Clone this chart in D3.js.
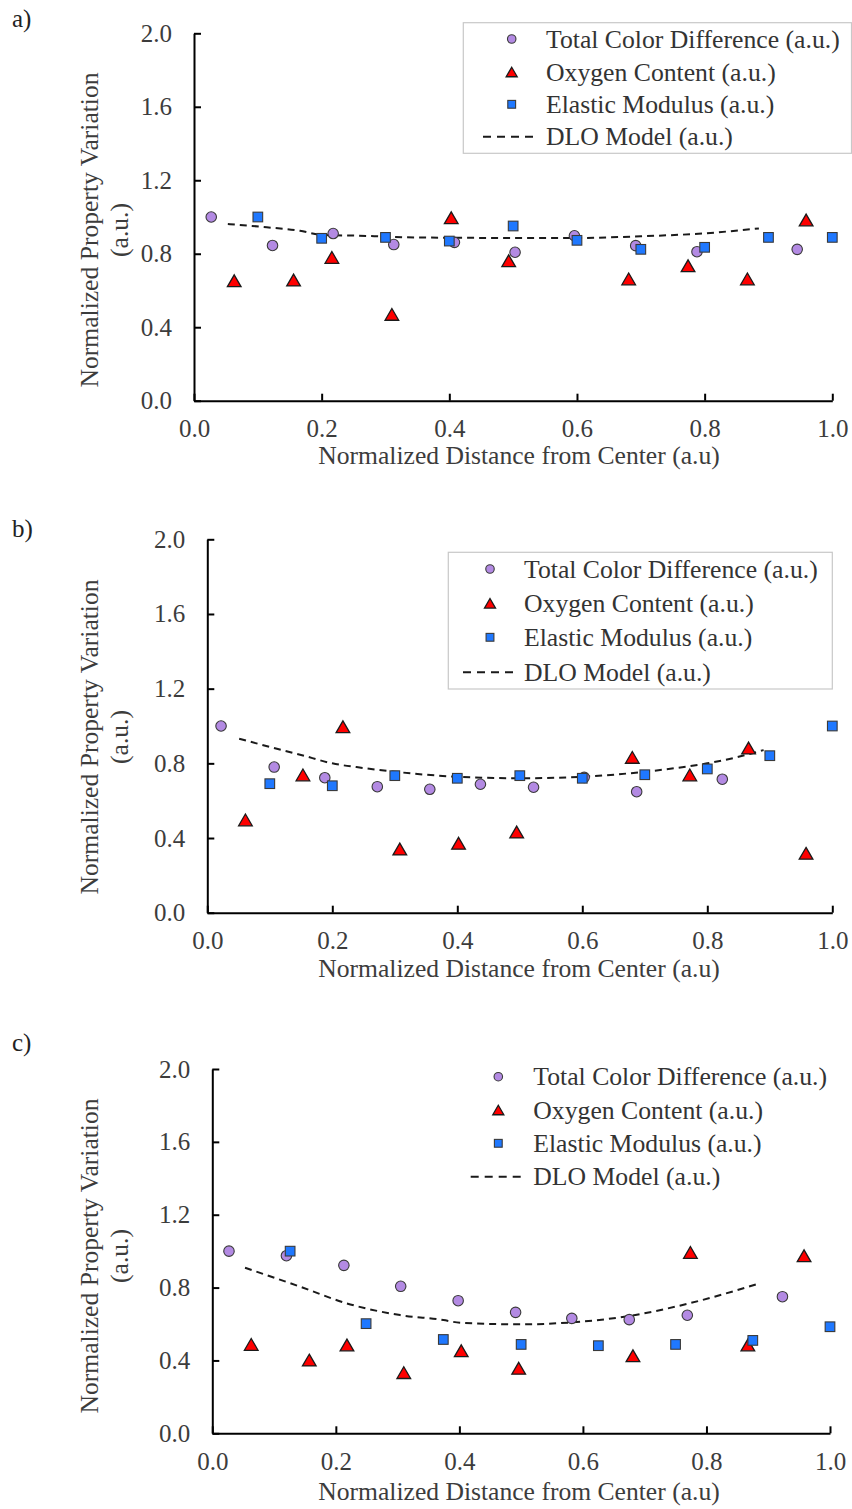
<!DOCTYPE html>
<html>
<head>
<meta charset="utf-8">
<script src="https://cdn.jsdelivr.net/npm/d3@7"></script>
<style>
  html, body { margin: 0; padding: 0; background: #fff; }
  svg { display: block; }
  text { font-family: "Liberation Serif", "Times New Roman", serif; }
</style>
</head>
<body>
<svg id="chart" width="852" height="1509"></svg>
<script>
// ---------------- DATA ----------------
const xTickValues = [0.0, 0.2, 0.4, 0.6, 0.8, 1.0];
const yTickValues = [0.0, 0.4, 0.8, 1.2, 1.6, 2.0];
const panelLabels = ["a)", "b)", "c)"];
const seriesNames = ["Total Color Difference (a.u.)", "Oxygen Content (a.u.)", "Elastic Modulus (a.u.)", "DLO Model (a.u.)"];
const xAxisTitle = "Normalized Distance from Center (a.u)";
const yAxisTitle = ["Normalized Property Variation", "(a.u.)"];

// Panel a
const colorA  = [[0.027,1.00],[0.123,0.845],[0.218,0.91],[0.313,0.85],[0.408,0.862],[0.503,0.808],[0.596,0.898],[0.692,0.844],[0.788,0.811],[0.945,0.824]];
const oxygenA = [[0.063,0.653],[0.156,0.657],[0.216,0.78],[0.310,0.47],[0.403,0.996],[0.493,0.762],[0.681,0.663],[0.774,0.735],[0.867,0.663],[0.959,0.984]];
const modulusA= [[0.1,1.0],[0.2,0.884],[0.3,0.889],[0.4,0.869],[0.5,0.951],[0.6,0.873],[0.7,0.824],[0.8,0.835],[0.9,0.889],[1.0,0.889]];
const dloA    = [[0.053,0.962],[0.114,0.944],[0.166,0.925],[0.2,0.903],[0.271,0.897],[0.3,0.893],[0.4,0.887],[0.5,0.886],[0.6,0.886],[0.7,0.895],[0.8,0.911],[0.885,0.938]];

// Panel b
const colorB  = [[0.022,1.0],[0.107,0.78],[0.188,0.723],[0.272,0.675],[0.356,0.661],[0.437,0.688],[0.522,0.672],[0.603,0.725],[0.687,0.648],[0.824,0.715]];
const oxygenB = [[0.061,0.497],[0.153,0.738],[0.217,0.996],[0.308,0.341],[0.402,0.372],[0.495,0.432],[0.680,0.832],[0.772,0.738],[0.866,0.882],[0.958,0.318]];
const modulusB= [[0.1,0.691],[0.2,0.680],[0.3,0.734],[0.4,0.720],[0.5,0.734],[0.6,0.720],[0.7,0.739],[0.8,0.770],[0.9,0.841],[1.0,1.0]];
const dloB    = [[0.051,0.932],[0.1,0.888],[0.15,0.845],[0.2,0.80],[0.25,0.775],[0.3,0.755],[0.4,0.728],[0.5,0.72],[0.6,0.728],[0.7,0.755],[0.75,0.775],[0.8,0.80],[0.85,0.835],[0.89,0.871]];

// Panel c
const colorC  = [[0.027,1.0],[0.120,0.975],[0.213,0.922],[0.305,0.807],[0.398,0.728],[0.491,0.664],[0.582,0.631],[0.675,0.624],[0.769,0.648],[0.923,0.750]];
const oxygenC = [[0.063,0.488],[0.157,0.402],[0.218,0.485],[0.310,0.333],[0.403,0.453],[0.496,0.357],[0.681,0.426],[0.774,0.993],[0.867,0.485],[0.958,0.975]];
const modulusC= [[0.126,1.0],[0.249,0.602],[0.374,0.515],[0.5,0.488],[0.625,0.481],[0.75,0.488],[0.875,0.510],[1.0,0.585]];
const dloC    = [[0.053,0.909],[0.142,0.805],[0.218,0.713],[0.304,0.649],[0.374,0.622],[0.401,0.607],[0.498,0.598],[0.582,0.609],[0.675,0.644],[0.768,0.710],[0.886,0.823]];

// ---------------- LAYOUT / STYLE ----------------
const COLORS = { circle: "#b38ae3", tri: "#ff0000", square: "#1f78ff", stroke: "#3a3a3a", text: "#3c3c3c" };

const panels = [
  { label: panelLabels[0], labelY: 27,  left: 194,   right: 832.3, top: 33.3,  bottom: 400.7,
    yTitleC: 230, xTitleY: 464,
    data: [colorA, oxygenA, modulusA, dloA],
    legend: { box: [463.3, 22.7, 388.2, 130.6], mx: 511.7, tx: 546, rows: [39, 72, 104.3, 136.7], dash: [483, 537] } },
  { label: panelLabels[1], labelY: 537, left: 207.3, right: 832.3, top: 539.3, bottom: 912.7,
    yTitleC: 737, xTitleY: 976.5,
    data: [colorB, oxygenB, modulusB, dloB],
    legend: { box: [448.3, 552.3, 384, 136.7], mx: 490, tx: 524, rows: [569, 603.3, 637.3, 672.3], dash: [463, 517] } },
  { label: panelLabels[2], labelY: 1051, left: 212.3, right: 830, top: 1069, bottom: 1433.3,
    yTitleC: 1256, xTitleY: 1500,
    data: [colorC, oxygenC, modulusC, dloC],
    legend: { box: null, mx: 498.3, tx: 533.3, rows: [1076.7, 1110, 1143.3, 1176.7], dash: [470.7, 526] } }
];

const svg = d3.select("#chart");
const fmt = d3.format(".1f");

function drawMarker(g, type, cx, cy, size) {
  if (type === 0) {
    g.append("circle").attr("cx", cx).attr("cy", cy).attr("r", size / 2)
      .attr("fill", COLORS.circle).attr("stroke", COLORS.stroke).attr("stroke-width", 1.1);
  } else if (type === 1) {
    const w = size * 1.3, h = size * 1.12;
    g.append("path")
      .attr("d", `M${cx},${cy - h / 2}L${cx + w / 2},${cy + h / 2}L${cx - w / 2},${cy + h / 2}Z`)
      .attr("fill", COLORS.tri).attr("stroke", "#1a1a1a").attr("stroke-width", 1.3).attr("stroke-linejoin", "miter");
  } else {
    const s = size * 0.92;
    g.append("rect").attr("x", cx - s / 2).attr("y", cy - s / 2).attr("width", s).attr("height", s)
      .attr("fill", COLORS.square).attr("stroke", COLORS.stroke).attr("stroke-width", 1.1);
  }
}

panels.forEach(p => {
  const g = svg.append("g");
  const x = d3.scaleLinear().domain([0, 1]).range([p.left, p.right]);
  const y = d3.scaleLinear().domain([0, 2]).range([p.bottom, p.top]);

  // panel label
  g.append("text").attr("x", 12).attr("y", p.labelY).attr("font-size", 25).attr("fill", "#222").text(p.label);

  // axes
  const yAxis = d3.axisLeft(y).tickValues(yTickValues).tickFormat(fmt).tickSizeInner(-7).tickSizeOuter(0).tickPadding(22);
  const xAxis = d3.axisBottom(x).tickValues(xTickValues).tickFormat(fmt).tickSizeInner(-7).tickSizeOuter(0).tickPadding(19);

  const ya = g.append("g").attr("transform", `translate(${p.left},0)`).call(yAxis);
  const xa = g.append("g").attr("transform", `translate(0,${p.bottom})`).call(xAxis);
  [ya, xa].forEach(a => {
    a.select(".domain").attr("stroke", "#000").attr("stroke-width", 2);
    a.selectAll(".tick line").attr("stroke", "#000").attr("stroke-width", 2);
    a.selectAll(".tick text").attr("font-family", "Liberation Serif, Times New Roman, serif")
      .attr("font-size", 25).attr("fill", COLORS.text);
  });

  // axis titles
  g.append("text").attr("x", 519).attr("y", p.xTitleY).attr("text-anchor", "middle")
    .attr("font-size", 25.6).attr("fill", COLORS.text).text(xAxisTitle);
  const yt = g.append("g").attr("transform", `translate(0,${p.yTitleC}) rotate(-90)`);
  yt.append("text").attr("x", 0).attr("y", 98).attr("text-anchor", "middle")
    .attr("font-size", 25.6).attr("fill", COLORS.text).text(yAxisTitle[0]);
  yt.append("text").attr("x", 0).attr("y", 128).attr("text-anchor", "middle")
    .attr("font-size", 25.6).attr("fill", COLORS.text).text(yAxisTitle[1]);

  // DLO model line
  const line = d3.line().x(d => x(d[0])).y(d => y(d[1])).curve(d3.curveMonotoneX);
  g.append("path").datum(p.data[3]).attr("d", line).attr("fill", "none")
    .attr("stroke", "#1a1a1a").attr("stroke-width", 2).attr("stroke-dasharray", "7,5");

  // markers
  const mg = g.append("g");
  [0, 1, 2].forEach(t => {
    p.data[t].forEach(d => drawMarker(mg, t, x(d[0]), y(d[1]), 10.5));
  });

  // legend
  const L = p.legend;
  const lg = g.append("g");
  if (L.box) {
    lg.append("rect").attr("x", L.box[0]).attr("y", L.box[1]).attr("width", L.box[2]).attr("height", L.box[3])
      .attr("fill", "#fff").attr("stroke", "#c8c8c8").attr("stroke-width", 1.2);
  }
  [0, 1, 2].forEach(t => drawMarker(lg, t, L.mx, L.rows[t], 8.5));
  lg.append("line").attr("x1", L.dash[0]).attr("x2", L.dash[1]).attr("y1", L.rows[3]).attr("y2", L.rows[3])
    .attr("stroke", "#1a1a1a").attr("stroke-width", 2).attr("stroke-dasharray", "8,6");
  seriesNames.forEach((n, i) => {
    lg.append("text").attr("x", L.tx).attr("y", L.rows[i] + 8.5).attr("font-size", 25.7)
      .attr("fill", "#333").text(n);
  });
});
</script>
</body>
</html>
